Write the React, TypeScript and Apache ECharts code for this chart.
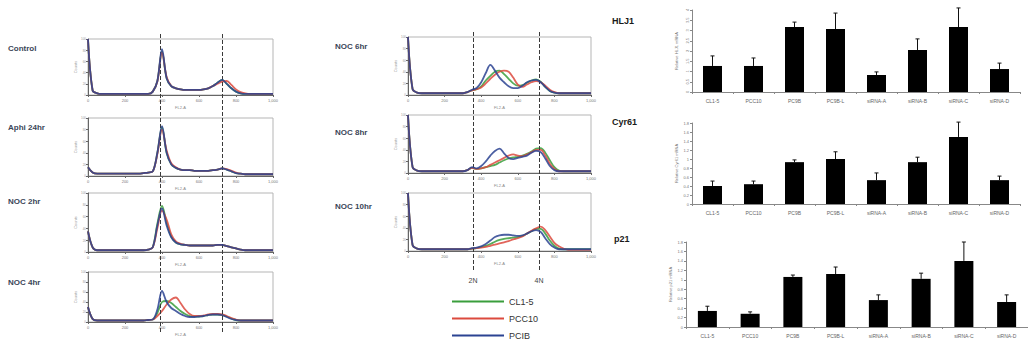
import React, { useEffect, useRef } from "react";
import * as echarts from "echarts";

const FONT = '"Liberation Sans", Arial, sans-serif';

// Flow cytometry histograms: DNA content channel (0..1000) vs relative counts
const HIST_X = [0, 25, 50, 75, 100, 125, 150, 175, 200, 225, 250, 275, 300, 325, 350, 375, 400, 425, 450, 475, 500, 525, 550, 575, 600, 625, 650, 675, 700, 725, 750, 775, 800, 825, 850, 875, 900, 925, 950, 975, 1000];

const SAMPLES = ["CL1-5", "PCC10", "PCIB"];
const SAMPLE_COLORS = ["#3a9e3c", "#dc4a3e", "#2b4392"];

const CONTROL_G = [100, 8, 3, 2, 2, 2, 2, 2, 2, 2, 2, 2, 2, 2, 6, 25, 78, 30, 16, 12, 10, 9, 9, 9, 9, 10, 12, 16, 22, 27, 20, 12, 6, 3, 2, 2, 2, 2, 2, 2, 2];
const CONTROL_R = [100, 8, 3, 2, 2, 2, 2, 2, 2, 2, 2, 2, 2, 2, 6, 24, 76, 32, 16, 12, 10, 9, 9, 9, 9, 10, 12, 16, 20, 24, 25, 18, 10, 5, 3, 2, 2, 2, 2, 2, 2];
const CONTROL_B = [100, 8, 3, 2, 2, 2, 2, 2, 2, 2, 2, 2, 2, 2, 6, 25, 82, 30, 16, 12, 10, 9, 9, 9, 9, 10, 12, 16, 22, 27, 20, 12, 6, 3, 2, 2, 2, 2, 2, 2, 2];

const APHI_G = [15, 6, 4, 4, 4, 4, 4, 4, 4, 4, 4, 4, 5, 6, 8, 40, 84, 40, 20, 14, 11, 10, 10, 9, 9, 9, 9, 10, 11, 13, 11, 8, 5, 4, 3, 3, 3, 3, 3, 3, 3];
const APHI_R = [15, 6, 4, 4, 4, 4, 4, 4, 4, 4, 4, 4, 5, 6, 8, 38, 80, 44, 22, 15, 11, 10, 10, 9, 9, 9, 9, 10, 11, 13, 12, 9, 6, 4, 3, 3, 3, 3, 3, 3, 3];
const APHI_B = [15, 6, 4, 4, 4, 4, 4, 4, 4, 4, 4, 4, 5, 6, 8, 40, 86, 40, 20, 14, 11, 10, 10, 9, 9, 9, 9, 10, 11, 13, 11, 8, 5, 4, 3, 3, 3, 3, 3, 3, 3];

const NOC2_G = [35, 8, 3, 3, 3, 3, 3, 3, 3, 3, 3, 3, 3, 4, 8, 48, 78, 50, 26, 16, 13, 12, 11, 11, 11, 11, 11, 11, 12, 12, 10, 8, 6, 4, 3, 3, 3, 3, 3, 3, 3];
const NOC2_R = [35, 8, 3, 3, 3, 3, 3, 3, 3, 3, 3, 3, 3, 4, 8, 40, 70, 55, 30, 18, 14, 12, 11, 11, 11, 11, 11, 11, 12, 12, 10, 8, 6, 4, 3, 3, 3, 3, 3, 3, 3];
const NOC2_B = [35, 8, 3, 3, 3, 3, 3, 3, 3, 3, 3, 3, 3, 4, 8, 45, 74, 45, 25, 16, 13, 12, 11, 11, 11, 11, 11, 11, 12, 12, 10, 8, 6, 4, 3, 3, 3, 3, 3, 3, 3];

const NOC4_G = [30, 6, 3, 3, 3, 3, 3, 3, 3, 3, 3, 3, 3, 4, 5, 18, 40, 42, 38, 30, 22, 16, 12, 11, 11, 12, 14, 15, 15, 14, 11, 7, 4, 3, 3, 3, 3, 3, 3, 3, 3];
const NOC4_R = [30, 6, 3, 3, 3, 3, 3, 3, 3, 3, 3, 3, 3, 4, 5, 12, 22, 35, 45, 49, 38, 25, 16, 12, 12, 13, 15, 16, 16, 15, 12, 8, 5, 3, 3, 3, 3, 3, 3, 3, 3];
const NOC4_B = [30, 6, 3, 3, 3, 3, 3, 3, 3, 3, 3, 3, 3, 4, 5, 25, 62, 40, 28, 22, 16, 12, 10, 10, 11, 12, 14, 15, 15, 14, 10, 6, 4, 3, 3, 3, 3, 3, 3, 3, 3];

const NOC6_G = [100, 10, 4, 3, 3, 3, 3, 3, 3, 3, 3, 3, 3, 5, 8, 10, 15, 25, 33, 40, 42, 36, 28, 20, 16, 17, 21, 25, 27, 23, 14, 7, 4, 3, 3, 3, 3, 3, 3, 3, 3];
const NOC6_R = [100, 10, 4, 3, 3, 3, 3, 3, 3, 3, 3, 3, 3, 5, 8, 10, 13, 20, 28, 35, 40, 42, 40, 30, 18, 14, 18, 22, 24, 22, 16, 9, 5, 3, 3, 3, 3, 3, 3, 3, 3];
const NOC6_B = [100, 10, 4, 3, 3, 3, 3, 3, 3, 3, 3, 3, 3, 5, 9, 12, 22, 38, 52, 42, 30, 22, 15, 12, 12, 16, 22, 25, 26, 22, 14, 7, 4, 3, 3, 3, 3, 3, 3, 3, 3];

const NOC8_G = [100, 10, 4, 3, 3, 3, 3, 3, 3, 3, 3, 3, 3, 5, 9, 7, 8, 10, 12, 14, 18, 22, 25, 27, 28, 30, 33, 37, 42, 43, 35, 22, 10, 4, 3, 3, 3, 3, 3, 3, 3];
const NOC8_R = [100, 10, 4, 3, 3, 3, 3, 3, 3, 3, 3, 3, 3, 5, 9, 7, 8, 10, 14, 18, 22, 26, 30, 32, 30, 29, 32, 36, 40, 40, 30, 16, 7, 3, 3, 3, 3, 3, 3, 3, 3];
const NOC8_B = [100, 10, 4, 3, 3, 3, 3, 3, 3, 3, 3, 3, 3, 5, 10, 8, 12, 20, 30, 38, 42, 34, 26, 24, 26, 28, 30, 35, 38, 36, 25, 12, 5, 3, 3, 3, 3, 3, 3, 3, 3];

const NOC10_G = [100, 10, 4, 3, 3, 3, 3, 3, 3, 3, 3, 3, 3, 3, 4, 5, 7, 9, 12, 16, 19, 21, 22, 23, 24, 26, 30, 34, 38, 38, 30, 18, 9, 4, 3, 3, 3, 3, 3, 3, 3];
const NOC10_R = [100, 10, 4, 3, 3, 3, 3, 3, 3, 3, 3, 3, 3, 3, 4, 5, 6, 7, 9, 11, 13, 15, 17, 20, 22, 25, 30, 35, 39, 42, 36, 25, 14, 8, 4, 2, 2, 2, 2, 2, 2];
const NOC10_B = [100, 10, 4, 3, 3, 3, 3, 3, 3, 3, 3, 3, 3, 3, 5, 6, 8, 12, 18, 24, 27, 28, 28, 27, 26, 27, 30, 34, 36, 33, 22, 12, 6, 3, 3, 3, 3, 3, 3, 3, 3];

const PANEL_LABELS = ["Control", "Aphi 24hr", "NOC 2hr", "NOC 4hr", "NOC 6hr", "NOC 8hr", "NOC 10hr"];
const PANEL_SERIES = [
  [CONTROL_G, CONTROL_R, CONTROL_B],
  [APHI_G, APHI_R, APHI_B],
  [NOC2_G, NOC2_R, NOC2_B],
  [NOC4_G, NOC4_R, NOC4_B],
  [NOC6_G, NOC6_R, NOC6_B],
  [NOC8_G, NOC8_R, NOC8_B],
  [NOC10_G, NOC10_R, NOC10_B],
];
const LEFT_GUIDES = [389, 724];
const MID_GUIDES = [355, 716];
const GUIDE_LABELS = ["2N", "4N"];

// Bar charts (relative mRNA expression)
const BAR_CATS = ["CL1-5", "PCC10", "PC9B", "PC9B-L", "siRNA-A", "siRNA-B", "siRNA-C", "siRNA-D"];
const HLJ1_MEAN = [1.27, 1.27, 3.17, 3.07, 0.83, 2.05, 3.17, 1.12];
const HLJ1_SD = [0.49, 0.39, 0.24, 0.78, 0.15, 0.54, 0.93, 0.29];
const CYR61_MEAN = [0.4, 0.44, 0.93, 1.0, 0.53, 0.93, 1.49, 0.53];
const CYR61_SD = [0.11, 0.07, 0.05, 0.16, 0.16, 0.11, 0.33, 0.09];
const P21_MEAN = [0.34, 0.28, 1.06, 1.12, 0.57, 1.02, 1.4, 0.53];
const P21_SD = [0.1, 0.04, 0.04, 0.15, 0.11, 0.12, 0.4, 0.15];
const BAR_TITLES = ["HLJ1", "Cyr61", "p21"];
const BAR_YNAMES = ["Relative HLJ1 mRNA", "Relative Cyr61 mRNA", "Relative p21 mRNA"];

function buildOption() {
  const histGrids = [
    { left: 88, top: 39, width: 185, height: 56 },
    { left: 88, top: 118, width: 185, height: 58 },
    { left: 88, top: 193, width: 185, height: 59 },
    { left: 88, top: 272, width: 185, height: 50 },
    { left: 408, top: 37, width: 183, height: 58 },
    { left: 408, top: 115, width: 183, height: 58 },
    { left: 408, top: 193, width: 183, height: 58 },
  ];
  const grids: any[] = [];
  const xAxes: any[] = [];
  const yAxes: any[] = [];
  const series: any[] = [];

  histGrids.forEach((g, gi) => {
    grids.push({ ...g, show: true, borderColor: "#b5b5b5", borderWidth: 1, containLabel: false });
    xAxes.push({
      gridIndex: gi, type: "value", min: 0, max: 1000, interval: 200,
      axisLine: { show: true, lineStyle: { color: "#666", width: 1 } },
      axisTick: { show: true, length: 2, lineStyle: { color: "#666" } },
      axisLabel: { show: true, fontSize: 4, color: "#777", margin: 3, fontFamily: FONT },
      splitLine: { show: false },
      name: "FL2-A", nameLocation: "middle", nameGap: 10,
      nameTextStyle: { fontSize: 4, color: "#888", fontFamily: FONT },
    });
    yAxes.push({
      gridIndex: gi, type: "value", min: 0, max: 100, interval: 20,
      axisLine: { show: true, lineStyle: { color: "#666", width: 1 } },
      axisTick: { show: true, length: 2, lineStyle: { color: "#666" } },
      axisLabel: { show: true, fontSize: 3, color: "#999", margin: 2, fontFamily: FONT },
      splitLine: { show: false },
      name: "Counts", nameLocation: "middle", nameGap: 9, nameRotate: 90,
      nameTextStyle: { fontSize: 4, color: "#999", fontFamily: FONT },
    });
    PANEL_SERIES[gi].forEach((vals, si) => {
      series.push({
        type: "line", name: SAMPLES[si], xAxisIndex: gi, yAxisIndex: gi,
        data: HIST_X.map((x, i) => [x, vals[i]]),
        showSymbol: false, symbol: "none", smooth: 0.35,
        lineStyle: { color: SAMPLE_COLORS[si], width: 1.8, opacity: 0.85 },
        itemStyle: { color: SAMPLE_COLORS[si] },
        z: 3 + si,
      });
    });
  });

  // overlay grids for continuous 2N / 4N guide lines
  const overlays = [
    { grid: { left: 88, top: 33, width: 185, height: 299 }, guides: LEFT_GUIDES, labels: false },
    { grid: { left: 408, top: 30, width: 183, height: 240 }, guides: MID_GUIDES, labels: true },
  ];
  overlays.forEach((o) => {
    const gi = grids.length;
    grids.push({ ...o.grid, show: false });
    xAxes.push({ gridIndex: gi, type: "value", min: 0, max: 1000, show: false });
    yAxes.push({ gridIndex: gi, type: "value", min: 0, max: 1, show: false });
    series.push({
      type: "line", name: "guide" + gi, xAxisIndex: gi, yAxisIndex: gi,
      data: [[0, 0]], showSymbol: false, symbol: "none",
      lineStyle: { opacity: 0 },
      markLine: {
        silent: true, symbol: ["none", "none"],
        lineStyle: { type: [4, 2], color: "#3a3a3a", width: 1 },
        label: o.labels
          ? { show: true, position: "start", fontSize: 7, color: "#444", distance: 7, fontFamily: FONT, formatter: (p: any) => GUIDE_LABELS[p.dataIndex] }
          : { show: false },
        data: o.guides.map((v) => ({ xAxis: v })),
      },
      z: 10,
    });
  });

  // bar charts
  const barGrids = [
    { left: 692, top: 10, width: 328, height: 82 },
    { left: 692, top: 123, width: 328, height: 81 },
    { left: 686, top: 242, width: 352, height: 85 },
  ];
  const barYAxis = [
    { max: 4, interval: 0.5, rotate: 90 },
    { max: 1.8, interval: 0.2, rotate: 0 },
    { max: 1.8, interval: 0.2, rotate: 0 },
  ];
  const means = [HLJ1_MEAN, CYR61_MEAN, P21_MEAN];
  const sds = [HLJ1_SD, CYR61_SD, P21_SD];
  barGrids.forEach((g, bi) => {
    const gi = grids.length;
    grids.push({ ...g, show: false });
    xAxes.push({
      gridIndex: gi, type: "category", data: BAR_CATS, boundaryGap: true,
      axisLine: { show: true, lineStyle: { color: "#888", width: 1 } },
      axisTick: { show: true, alignWithLabel: false, length: 2, lineStyle: { color: "#888" } },
      axisLabel: { fontSize: 5, color: "#666", margin: 6, interval: 0, fontFamily: FONT },
    });
    yAxes.push({
      gridIndex: gi, type: "value", min: 0, max: barYAxis[bi].max, interval: barYAxis[bi].interval,
      axisLine: { show: true, lineStyle: { color: "#888", width: 1 } },
      axisTick: { show: true, length: 2, lineStyle: { color: "#888" } },
      axisLabel: { fontSize: 4, color: "#777", margin: 3, rotate: barYAxis[bi].rotate, fontFamily: FONT },
      splitLine: { show: false },
      name: BAR_YNAMES[bi], nameLocation: "middle", nameGap: 14, nameRotate: 90,
      nameTextStyle: { fontSize: 4, color: "#777", fontFamily: FONT },
    });
    series.push({
      type: "bar", name: BAR_TITLES[bi], xAxisIndex: gi, yAxisIndex: gi,
      data: means[bi], barWidth: 19,
      itemStyle: { color: "#000" },
    });
    series.push({
      type: "custom", name: BAR_TITLES[bi] + " sd", xAxisIndex: gi, yAxisIndex: gi,
      data: means[bi].map((m, i) => [i, m, m + sds[bi][i]]),
      renderItem: (params: any, api: any) => {
        const base = api.coord([api.value(0), api.value(1)]);
        const top = api.coord([api.value(0), api.value(2)]);
        return {
          type: "group",
          children: [
            { type: "line", shape: { x1: base[0], y1: base[1], x2: top[0], y2: top[1] }, style: { stroke: "#111", lineWidth: 1 } },
            { type: "line", shape: { x1: top[0] - 2, y1: top[1], x2: top[0] + 2, y2: top[1] }, style: { stroke: "#111", lineWidth: 1 } },
          ],
        };
      },
      z: 4,
    });
  });

  const labelStyle = { fill: "#3b4658", fontSize: 8, fontWeight: "bold", fontFamily: FONT, textVerticalAlign: "middle" };
  const labelPos = [[8, 49], [8, 128], [8, 202], [8, 283], [335, 47], [335, 133], [335, 207]];
  const graphics: any[] = PANEL_LABELS.map((t, i) => ({
    type: "text", left: labelPos[i][0], top: labelPos[i][1] - 5,
    style: { ...labelStyle, text: t },
  }));
  const titlePos = [[612, 16], [612, 117], [614, 234]];
  BAR_TITLES.forEach((t, i) => {
    graphics.push({ type: "text", left: titlePos[i][0], top: titlePos[i][1], style: { ...labelStyle, fill: "#1a1a1a", fontSize: 9, text: t } });
  });

  const legendTops = [297, 314, 331];
  const legends = SAMPLES.map((s, i) => ({
    orient: "vertical", left: 452, top: legendTops[i], itemWidth: 52, itemHeight: 2,
    icon: "rect", data: [s], padding: 0,
    textStyle: { fontSize: 9, color: "#333", fontFamily: FONT },
  }));

  return {
    animation: false,
    backgroundColor: "#fff",
    grid: grids,
    xAxis: xAxes,
    yAxis: yAxes,
    series,
    legend: legends,
    graphic: graphics,
  };
}

export default function App() {
  const ref = useRef<HTMLDivElement>(null);
  useEffect(() => {
    const chart = echarts.init(ref.current!, null, { renderer: "svg" });
    chart.setOption(buildOption() as any);
    return () => chart.dispose();
  }, []);
  return <div ref={ref} style={{ position: "absolute", left: 0, top: 0, width: 1028, height: 345 }} />;
}
